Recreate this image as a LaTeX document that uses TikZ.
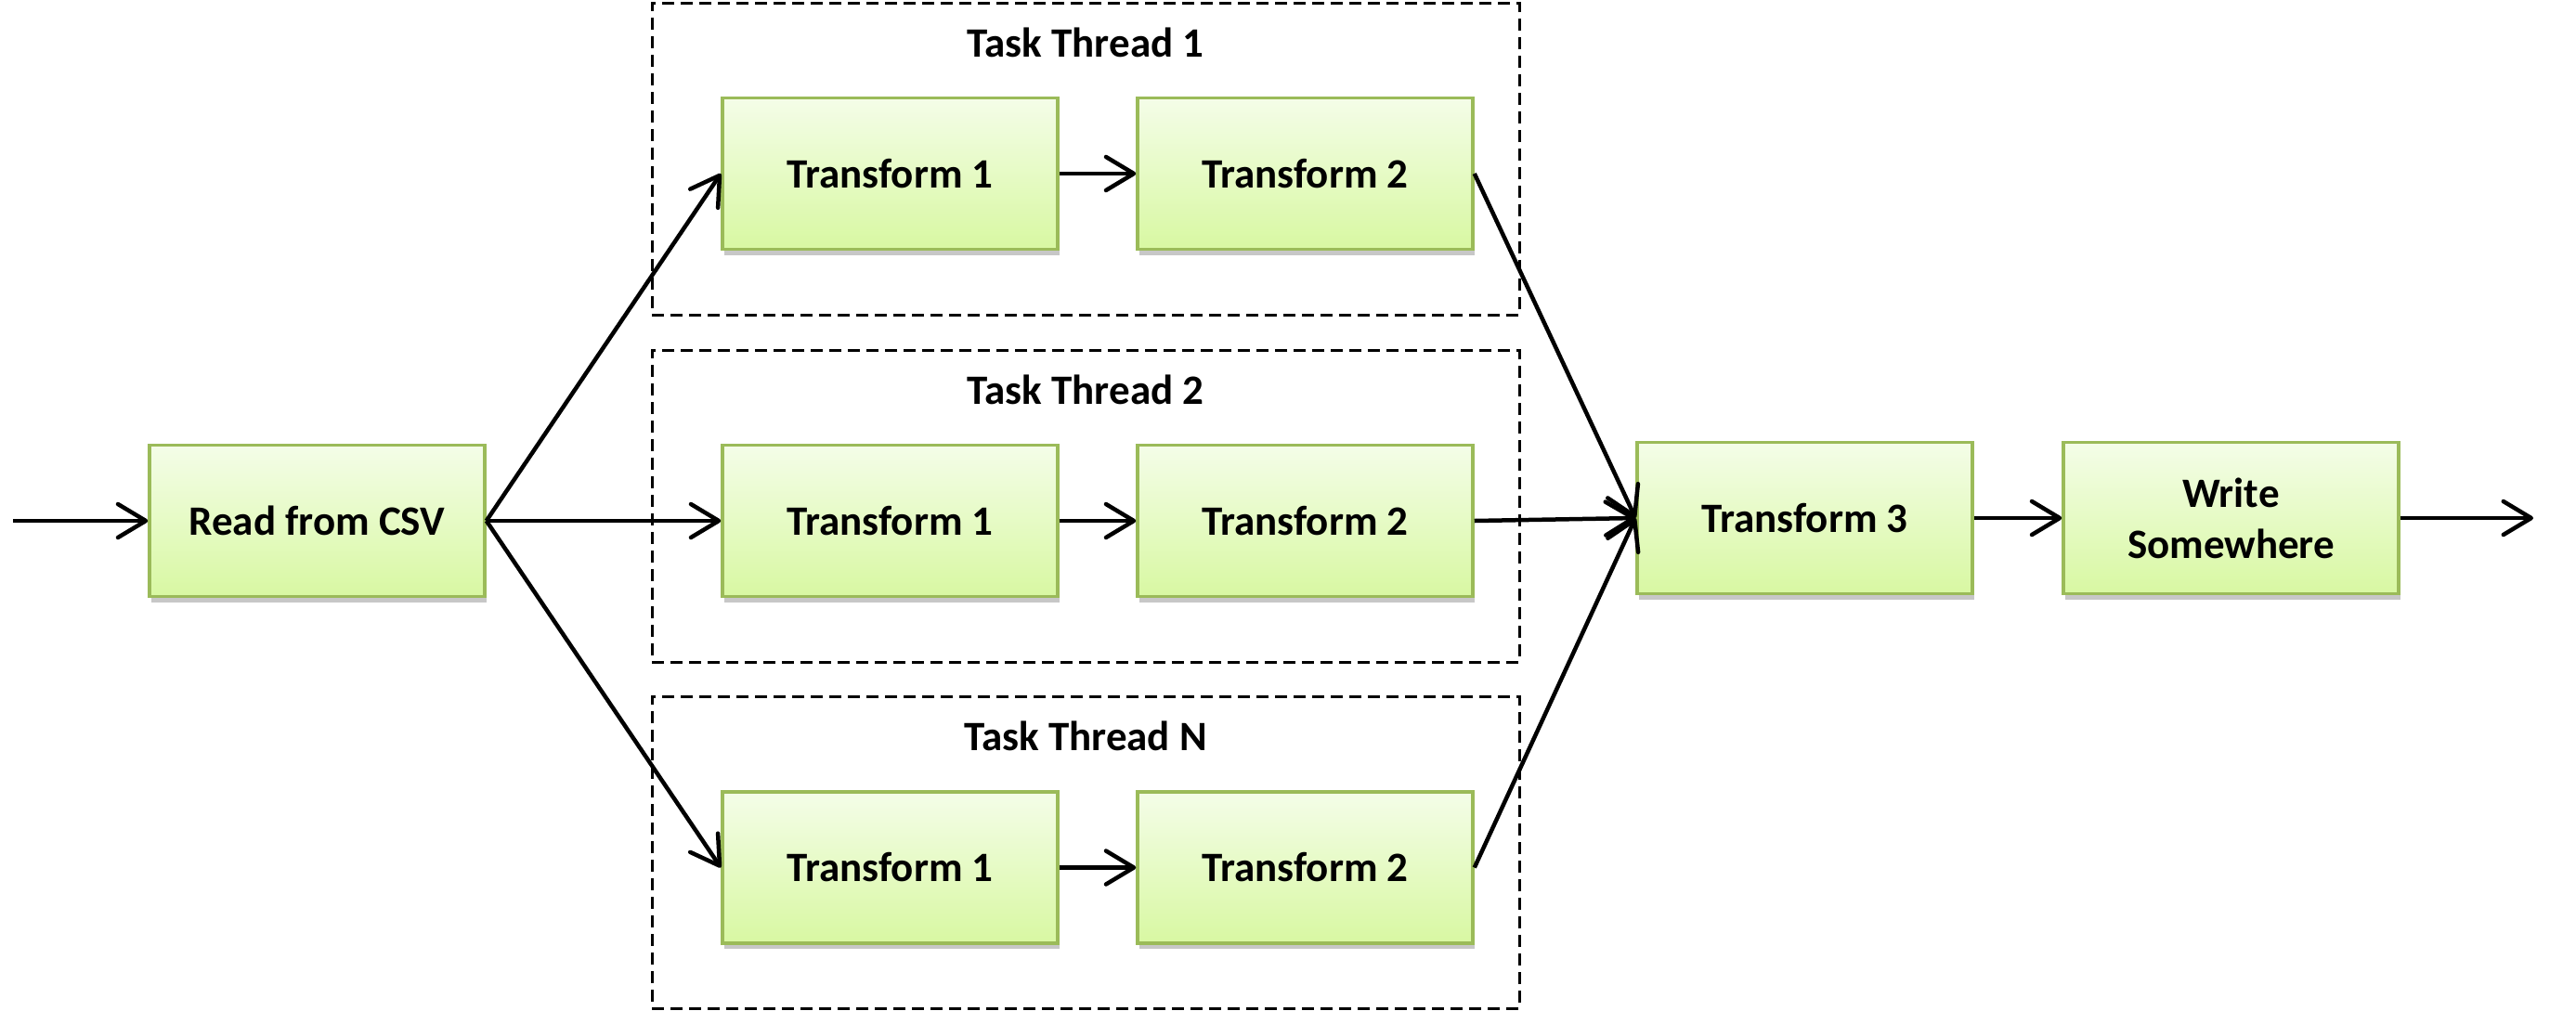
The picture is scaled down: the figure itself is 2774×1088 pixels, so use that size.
\documentclass[tikz,border=0pt]{standalone}
\usepackage{fontspec}
\setmainfont{Carlito}
\usetikzlibrary{arrows.meta,shadows}
\definecolor{boxborder}{RGB}{155,187,89}
\definecolor{boxtop}{RGB}{244,253,232}
\definecolor{boxbot}{RGB}{216,248,162}
\tikzset{
  procbox/.style={draw=boxborder, line width=3.5pt, top color=boxtop, bottom color=boxbot,
    minimum width=361pt, minimum height=163pt, inner sep=0pt, align=center,
    font=\bfseries\fontsize{45}{55}\selectfont,
    drop shadow={shadow xshift=2pt, shadow yshift=-6pt, opacity=0.22, fill=black}},
  threadbox/.style={draw=black, line width=3pt, dash pattern=on 13pt off 7pt,
    minimum width=934pt, minimum height=336pt, inner sep=0pt},
  threadtitle/.style={anchor=base, inner sep=0pt, font=\bfseries\fontsize{45}{55}\selectfont},
  flow/.style={line width=4.5pt, -{Straight Barb[length=30pt,width=36pt,round]}},
}
\begin{document}
\begin{tikzpicture}[x=1pt,y=-1pt]
\path[use as bounding box, fill=white] (0,0) rectangle (2774,1088);

% thread containers
\node[threadbox] (th1) at (1169,171) {};
\node[threadbox] (th2) at (1169,545) {};
\node[threadbox] (th3) at (1169,918) {};
\node[threadtitle] (tt1) at (1169,61) {Task Thread 1};
\node[threadtitle] (tt2) at (1169,435) {Task Thread 2};
\node[threadtitle] (tt3) at (1169,808) {Task Thread N};

% process boxes
\node[procbox] (read) at (341.5,561) {Read from CSV};
\node[procbox] (a1) at (958.5,187) {Transform 1};
\node[procbox] (b1) at (1405.5,187) {Transform 2};
\node[procbox] (a2) at (958.5,561) {Transform 1};
\node[procbox] (b2) at (1405.5,561) {Transform 2};
\node[procbox] (a3) at (958.5,934.5) {Transform 1};
\node[procbox] (b3) at (1405.5,934.5) {Transform 2};
\node[procbox] (t3) at (1943.5,558) {Transform 3};
\node[procbox] (wr) at (2402.5,558) {Write\\Somewhere};

\coordinate (in) at (14,561);
\coordinate (out) at (2728,558);

% connectors
\draw[flow] (in) -- (read.west);
\draw[flow] (read.east) -- (a1.west);
\draw[flow] (read.east) -- (a2.west);
\draw[flow] (read.east) -- (a3.west);
\draw[flow] (a1.east) -- (b1.west);
\draw[flow] (a2.east) -- (b2.west);
\draw[flow] (a3.east) -- (b3.west);
\draw[flow] (b1.east) -- (t3.west);
\draw[flow] (b2.east) -- (t3.west);
\draw[flow] (b3.east) -- (t3.west);
\draw[flow] (t3.east) -- (wr.west);
\draw[flow] (wr.east) -- (out);
\end{tikzpicture}
\end{document}
